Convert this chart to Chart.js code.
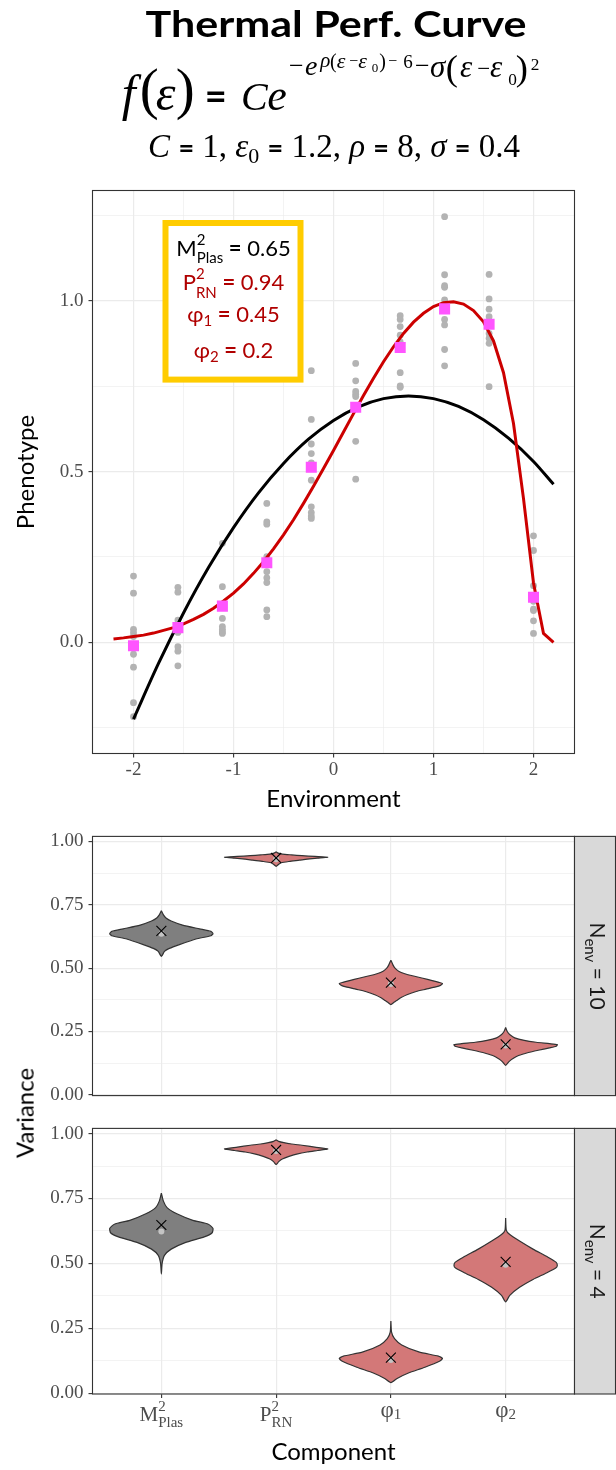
<!DOCTYPE html>
<html><head><meta charset="utf-8">
<script src="https://cdn.jsdelivr.net/npm/chart.js@4.4.1/dist/chart.umd.min.js"></script>
<style>
html,body{margin:0;padding:0;background:#fff;width:616px;height:1470px;overflow:hidden}
canvas{position:absolute;left:0}
#varLabel{position:absolute;left:25px;top:1113px;font:24px Lato;line-height:28.8px;color:#000;white-space:nowrap;transform:translate(-50%,-50%) rotate(-90deg)}
</style></head><body>
<canvas id="cTop" width="616" height="820" style="top:0"></canvas>
<canvas id="cV10" width="616" height="292" style="top:820px"></canvas>
<canvas id="cV4" width="616" height="358" style="top:1112px"></canvas>
<div id="varLabel">Variance</div>
<script>
// ---------------- DATA ----------------
const envLevels = [-2, -1.556, -1.111, -0.667, -0.222, 0.222, 0.667, 1.111, 1.556, 2];
const phenoObs = [
  [0.194, 0.144, 0.038, 0.028, 0.017, -0.035, -0.073, -0.177, -0.218],
  [0.161, 0.147, 0.065, 0.029, -0.013, -0.026, -0.069],
  [0.290, 0.163, 0.110, 0.070, 0.046, 0.038, 0.031, 0.026],
  [0.407, 0.353, 0.346, 0.251, 0.207, 0.189, 0.175, 0.095, 0.075],
  [0.796, 0.653, 0.581, 0.553, 0.526, 0.475, 0.397, 0.380, 0.370, 0.363],
  [0.817, 0.766, 0.735, 0.727, 0.720, 0.589, 0.478],
  [0.957, 0.946, 0.925, 0.900, 0.880, 0.790, 0.751, 0.747],
  [1.247, 1.077, 1.045, 1.040, 1.003, 0.946, 0.930, 0.858, 0.810],
  [1.078, 1.006, 0.976, 0.954, 0.905, 0.891, 0.876, 0.749],
  [0.312, 0.269, 0.166, 0.120, 0.097, 0.093, 0.063, 0.026]
];
const phenoMean = [-0.010, 0.043, 0.106, 0.233, 0.513, 0.689, 0.864, 0.977, 0.932, 0.132];

const curveEnv = [-2.2,-2.1,-2.0,-1.9,-1.8,-1.7,-1.6,-1.5,-1.4,-1.3,-1.2,-1.1,-1.0,-0.9,-0.8,-0.7,-0.6,-0.5,-0.4,-0.3,-0.2,-0.1,0,0.1,0.2,0.3,0.4,0.5,0.6,0.7,0.8,0.9,1.0,1.1,1.2,1.3,1.4,1.5,1.6,1.7,1.8,1.9,2.0,2.1,2.2];
const curveTrue = [0.010,0.013,0.017,0.021,0.027,0.035,0.043,0.054,0.067,0.082,0.100,0.121,0.144,0.171,0.202,0.236,0.274,0.315,0.359,0.407,0.457,0.509,0.562,0.616,0.670,0.723,0.774,0.822,0.866,0.905,0.938,0.964,0.984,0.995,0.998,0.991,0.972,0.939,0.883,0.790,0.641,0.421,0.174,0.026,0.000];

const fitEnv = [-2, -1.75, -1.5, -1.25, -1, -0.75, -0.5, -0.25, 0, 0.25, 0.5, 0.75, 1, 1.25, 1.5, 1.75, 2, 2.2];
const fitVals = [-0.225, -0.062, 0.086, 0.219, 0.336, 0.438, 0.524, 0.595, 0.650, 0.690, 0.714, 0.722, 0.714, 0.691, 0.652, 0.598, 0.530, 0.463];

const envTicks = [-2, -1.5, -1, -0.5, 0, 0.5, 1, 1.5, 2];
const phenoTicks = [-0.25, 0, 0.25, 0.5, 0.75, 1, 1.25];
const varTicks = [0, 0.125, 0.25, 0.375, 0.5, 0.625, 0.75, 0.875, 1];

const components = ['M2Plas', 'P2RN', 'phi1', 'phi2'];
const panelLabels = ['10', '4'];

// violin outlines, N_env = 10 (value, relative half-width)
const v10_M2_y = [0.7265,0.7105,0.698,0.686,0.670,0.655,0.645,0.636,0.628,0.615,0.593,0.578,0.566,0.546];
const v10_M2_w = [0,0.04,0.09,0.19,0.41,0.74,0.96,1.0,0.96,0.67,0.35,0.155,0.06,0];
const v10_P2_y = [0.959,0.954,0.950,0.947,0.944,0.941,0.938,0.934,0.930,0.926,0.921,0.916,0.910,0.902];
const v10_P2_w = [0,0.04,0.12,0.30,0.50,0.75,1.0,0.80,0.60,0.45,0.25,0.10,0.05,0];
const v10_p1_y = [0.5315,0.513,0.500,0.488,0.478,0.470,0.460,0.451,0.444,0.439,0.432,0.426,0.417,0.408,0.395,0.383,0.372,0.365,0.356];
const v10_p1_w = [0,0.04,0.08,0.15,0.27,0.42,0.62,0.80,0.93,1.0,0.96,0.87,0.68,0.49,0.31,0.19,0.11,0.06,0];
const v10_p2_y = [0.266,0.255,0.247,0.236,0.225,0.215,0.2076,0.202,0.198,0.192,0.1855,0.176,0.167,0.155,0.142,0.130,0.1165];
const v10_p2_w = [0,0.02,0.04,0.09,0.175,0.36,0.59,0.85,1.0,0.98,0.85,0.63,0.44,0.25,0.135,0.06,0];
// violin outlines, N_env = 4
const v4_M2_y = [0.771,0.740,0.715,0.691,0.666,0.651,0.635,0.617,0.602,0.580,0.555,0.531,0.500,0.459];
const v4_M2_w = [0,0.04,0.11,0.30,0.61,0.91,1.0,0.98,0.83,0.46,0.19,0.06,0.015,0];
const v4_P2_y = [0.976,0.970,0.965,0.960,0.955,0.948,0.941,0.935,0.929,0.922,0.912,0.902,0.892,0.881];
const v4_P2_w = [0,0.05,0.15,0.30,0.50,0.75,1.0,0.80,0.60,0.42,0.25,0.12,0.05,0];
const v4_p1_y = [0.278,0.235,0.210,0.186,0.159,0.143,0.134,0.124,0.100,0.078,0.057,0.041];
const v4_p1_w = [0,0.013,0.07,0.21,0.54,0.92,1.0,0.95,0.66,0.34,0.12,0];
const v4_p2_y = [0.675,0.627,0.611,0.586,0.555,0.524,0.504,0.491,0.482,0.463,0.438,0.408,0.377,0.352];
const v4_p2_w = [0,0.013,0.08,0.27,0.53,0.82,0.98,1.0,0.97,0.79,0.53,0.27,0.08,0];

const means10 = [0.647, 0.935, 0.443, 0.199];
const medians10 = [0.636, 0.930, 0.437, 0.195];
const means4 = [0.648, 0.937, 0.137, 0.506];
const medians4 = [0.623, 0.933, 0.128, 0.495];

// ---------------- HELPERS ----------------
const SERIF = '"Liberation Serif"';
const TICKFONT = {family: 'Liberation Serif', size: 19};
const GRID = '#EBEBEB';
const DARK = '#333333';

function richWidth(ctx, parts) {
  let w = 0;
  for (const p of parts) {
    if (p.stack) {
      let m = 0;
      for (const s of p.stack) { ctx.font = s.f; m = Math.max(m, ctx.measureText(s.t).width); }
      w += m;
    } else { ctx.font = p.f; w += ctx.measureText(p.t).width; }
  }
  return w;
}
function drawRich(ctx, parts, cx, y, color) {
  const w = richWidth(ctx, parts);
  let x = cx - w / 2;
  ctx.textAlign = 'left'; ctx.textBaseline = 'alphabetic';
  for (const p of parts) {
    if (p.stack) {
      let m = 0;
      for (const s of p.stack) {
        ctx.font = s.f; ctx.fillStyle = s.c || color;
        ctx.fillText(s.t, x, y + (s.dy || 0));
        m = Math.max(m, ctx.measureText(s.t).width);
      }
      x += m;
    } else {
      ctx.font = p.f; ctx.fillStyle = p.c || color;
      ctx.fillText(p.t, x, y + (p.dy || 0));
      x += ctx.measureText(p.t).width;
    }
  }
}
const near = (v, step) => Math.abs(v / step - Math.round(v / step)) < 1e-6;

const frame = {
  id: 'frame',
  afterDatasetsDraw(chart, args, opts) {
    const {ctx, chartArea: a} = chart;
    ctx.save();
    ctx.strokeStyle = DARK; ctx.lineWidth = 1.1;
    ctx.strokeRect(a.left, a.top, a.right - a.left, a.bottom - a.top);
    if (opts && opts.strip) {
      const x0 = a.right, x1 = 615.5;
      ctx.fillStyle = '#D9D9D9';
      ctx.fillRect(x0, a.top, x1 - x0, a.bottom - a.top);
      ctx.strokeRect(x0, a.top, x1 - x0, a.bottom - a.top);
      const cx = (x0 + x1) / 2, cy = (a.top + a.bottom) / 2;
      ctx.translate(cx, cy); ctx.rotate(Math.PI / 2);
      drawRich(ctx, [{t: 'N', f: '21px Lato'}, {t: 'env', f: '15px Lato', dy: 5}, {t: ' = ' + opts.strip, f: '21px Lato'}], 0, 5.4, '#1A1A1A');
    }
    ctx.restore();
  }
};

// formula glyphs: text, font, ink-left x, baseline y
const formulaPieces = [
  ['f', 'italic 50px ' + SERIF, 121.7, 110],
  ['(', '57px ' + SERIF, 141.7, 108],
  ['ε', 'italic 50px ' + SERIF, 156.7, 110],
  [')', '57px ' + SERIF, 176.7, 108],
  ['=', 'bold 38px Lato', 206.7, 110.4],
  ['C', 'italic 40px ' + SERIF, 243, 110],
  ['e', 'italic 44px ' + SERIF, 268.3, 110],
  ['−', '26px ' + SERIF, 290, 73.5],
  ['e', 'italic 28px ' + SERIF, 305, 75],
  ['ρ', 'italic 21px ' + SERIF, 319.3, 67],
  ['(', '20px ' + SERIF, 330, 68.2],
  ['ε', 'italic 22px ' + SERIF, 336.7, 67.5],
  ['−', '16px ' + SERIF, 349.3, 66.3],
  ['ε', 'italic 22px ' + SERIF, 358.3, 67.5],
  ['0', '13px ' + SERIF, 371.7, 71.7],
  [')', '20px ' + SERIF, 379.3, 68.2],
  ['−', '16px ' + SERIF, 388.3, 66.3],
  ['6', '19px ' + SERIF, 403.3, 67.7],
  ['−', '26px ' + SERIF, 416, 74.2],
  ['σ', 'italic 31px ' + SERIF, 430, 76.7],
  ['(', '36.5px ' + SERIF, 446.7, 80.1],
  ['ε', 'italic 31px ' + SERIF, 460, 76.7],
  ['−', '23px ' + SERIF, 478.3, 75.8],
  ['ε', 'italic 31px ' + SERIF, 490, 76.7],
  ['0', '17.3px ' + SERIF, 508.3, 85],
  [')', '36.5px ' + SERIF, 516.7, 80.1],
  ['2', '17.3px ' + SERIF, 530.7, 70]
];

const topDecor = {
  id: 'topDecor',
  afterDatasetsDraw(chart) {
    const ctx = chart.ctx;
    ctx.save();
    ctx.fillStyle = '#000'; ctx.textBaseline = 'alphabetic';
    // title, stretched to the reference footprint
    ctx.font = 'bold 37px Lato'; ctx.textAlign = 'center';
    const tw = ctx.measureText('Thermal Perf. Curve').width;
    ctx.save(); ctx.translate(336, 37.3); ctx.scale(381 / tw, 1);
    ctx.fillText('Thermal Perf. Curve', 0, 0);
    ctx.restore();
    ctx.textAlign = 'left';
    for (const [t, f, x, y] of formulaPieces) {
      ctx.font = f;
      const m = ctx.measureText(t);
      ctx.fillText(t, x + m.actualBoundingBoxLeft, y);
    }
    const pm = 'italic 33px ' + SERIF, pn = '33px ' + SERIF, eq = 'bold 27px Lato';
    drawRich(ctx, [
      {t: 'C', f: pm}, {t: ' ', f: pn}, {t: '=', f: eq}, {t: ' 1, ', f: pn},
      {t: 'ε', f: pm}, {t: '0', f: '22px ' + SERIF, dy: 6}, {t: ' ', f: pn}, {t: '=', f: eq}, {t: ' 1.2, ', f: pn},
      {t: 'ρ', f: pm}, {t: ' ', f: pn}, {t: '=', f: eq}, {t: ' 8, ', f: pn},
      {t: 'σ', f: pm}, {t: ' ', f: pn}, {t: '=', f: eq}, {t: ' 0.4', f: pn}
    ], 334, 156.7, '#000');
    // annotation box
    ctx.fillStyle = '#FFFFFF';
    ctx.fillRect(165.5, 223, 135, 156.6);
    ctx.strokeStyle = '#FFCC00'; ctx.lineWidth = 6;
    ctx.strokeRect(165.5, 223, 135, 156.6);
    const red = '#B00000', m = '22px Lato', s = '15px Lato', b = 'bold 22px Lato';
    drawRich(ctx, [{t: 'M', f: m}, {stack: [{t: '2', f: s, dy: -11}, {t: 'Plas', f: s, dy: 7}]}, {t: ' ', f: m}, {t: '=', f: b}, {t: ' 0.65', f: m}], 233.5, 256, '#000');
    drawRich(ctx, [{t: 'P', f: m}, {stack: [{t: '2', f: s, dy: -11}, {t: 'RN', f: s, dy: 8}]}, {t: ' ', f: m}, {t: '=', f: b}, {t: ' 0.94', f: m}], 233.5, 290, red);
    drawRich(ctx, [{t: 'φ', f: m}, {t: '1', f: s, dy: 4}, {t: ' ', f: m}, {t: '=', f: b}, {t: ' 0.45', f: m}], 233.5, 321.7, red);
    drawRich(ctx, [{t: 'φ', f: m}, {t: '2', f: s, dy: 4}, {t: ' ', f: m}, {t: '=', f: b}, {t: ' 0.2', f: m}], 233.5, 358.3, red);
    ctx.restore();
  }
};

// ---------------- TOP CHART ----------------
const obsPts = [];
envLevels.forEach((e, i) => phenoObs[i].forEach(v => obsPts.push({x: e, y: v})));

new Chart(document.getElementById('cTop'), {
  type: 'scatter',
  data: {datasets: [
    {data: envLevels.map((e, i) => ({x: e, y: phenoMean[i]})), pointStyle: 'rect', pointRadius: 7.8, backgroundColor: '#FF55FF', borderWidth: 0, order: 0},
    {data: curveEnv.map((e, i) => ({x: e, y: curveTrue[i]})), showLine: true, borderColor: '#CC0000', borderWidth: 3, pointRadius: 0, tension: 0, order: 1},
    {data: fitEnv.map((e, i) => ({x: e, y: fitVals[i]})), showLine: true, borderColor: '#000000', borderWidth: 3, pointRadius: 0, cubicInterpolationMode: 'monotone', order: 2},
    {data: obsPts, pointRadius: 3.4, backgroundColor: '#B3B3B3', borderWidth: 0, order: 3}
  ]},
  options: {
    responsive: false, animation: false, events: [],
    layout: {padding: {top: 190.5, right: 41.5, bottom: 0, left: 0}},
    plugins: {legend: {display: false}, tooltip: {enabled: false}},
    scales: {
      x: {
        type: 'linear', min: -2.41, max: 2.41,
        afterBuildTicks: s => { s.ticks = envTicks.map(v => ({value: v})); },
        afterFit: s => { s.height = 66.5; },
        ticks: {callback: v => near(v, 1) ? String(v) : '', font: TICKFONT, color: '#4D4D4D', padding: 1, maxRotation: 0, autoSkip: false},
        grid: {color: GRID, lineWidth: c => near(c.tick.value, 1) ? 1.2 : 0.6, tickColor: c => near(c.tick.value, 1) ? DARK : 'rgba(0,0,0,0)', tickLength: 4, tickWidth: 1.1},
        border: {display: false},
        title: {display: true, text: 'Environment', font: {family: 'Lato', size: 24}, color: '#000', padding: {top: 0, bottom: 6.6}}
      },
      y: {
        type: 'linear', min: -0.3258, max: 1.3238,
        afterBuildTicks: s => { s.ticks = phenoTicks.map(v => ({value: v})); },
        afterFit: s => { s.width = 92.5; },
        ticks: {callback: v => near(v, 0.5) ? v.toFixed(1) : '', font: TICKFONT, color: '#4D4D4D', padding: 5, autoSkip: false},
        grid: {color: GRID, lineWidth: c => near(c.tick.value, 0.5) ? 1.2 : 0.6, tickColor: c => near(c.tick.value, 0.5) ? DARK : 'rgba(0,0,0,0)', tickLength: 4, tickWidth: 1.1},
        border: {display: false},
        title: {display: true, text: 'Phenotype', font: {family: 'Lato', size: 24}, color: '#000', padding: {top: 12, bottom: 0}}
      }
    }
  },
  plugins: [frame, topDecor]
});

// ---------------- VIOLIN CHARTS ----------------
const HALF = 0.45;
function violinSets(ys, ws, means, meds) {
  const sets = [];
  ys.forEach((yArr, i) => {
    const c = i + 1, w = ws[i];
    const pts = yArr.map((y, k) => ({x: c + HALF * w[k], y}));
    for (let k = yArr.length - 2; k >= 0; k--) pts.push({x: c - HALF * w[k], y: yArr[k]});
    sets.push({data: pts, showLine: true, fill: 'shape', backgroundColor: i === 0 ? '#7F7F7F' : '#D37878',
      borderColor: DARK, borderWidth: 1.2, pointRadius: 0, tension: 0.2, order: 5});
  });
  sets.push({data: meds.map((m, i) => ({x: i + 1, y: m})), pointRadius: 3, backgroundColor: '#C4C4C4', borderWidth: 0, order: 1});
  sets.push({data: means.map((m, i) => ({x: i + 1, y: m})), pointStyle: 'crossRot', pointRadius: 7, borderColor: '#000', backgroundColor: '#000', borderWidth: 1.1, order: 0});
  return sets;
}

const compLabels = {
  id: 'compLabels',
  afterDraw(chart) {
    const ctx = chart.ctx, xs = chart.scales.x, y = chart.chartArea.bottom + 27.2;
    const f = '21px ' + SERIF, s = '15px ' + SERIF, col = '#4D4D4D';
    ctx.save();
    const labs = [
      [{t: 'M', f}, {stack: [{t: '2', f: s, dy: -10}, {t: 'Plas', f: s, dy: 6}]}],
      [{t: 'P', f}, {stack: [{t: '2', f: s, dy: -10}, {t: 'RN', f: s, dy: 6}]}],
      [{t: 'φ', f: '23px ' + SERIF}, {t: '1', f: s, dy: 2}],
      [{t: 'φ', f: '23px ' + SERIF}, {t: '2', f: s, dy: 2}]
    ];
    components.forEach((c, i) => drawRich(ctx, labs[i], xs.getPixelForValue(i + 1), y - (i > 1 ? 4 : 0), col));
    ctx.restore();
  }
};

function violinChart(id, sets, stripLabel, bottom) {
  return new Chart(document.getElementById(id), {
    type: 'scatter',
    data: {datasets: sets},
    options: {
      responsive: false, animation: false, events: [],
      layout: {padding: bottom ? {top: 5.5, right: 41.5, bottom: 0, left: 0} : {top: 11.5, right: 41.5, bottom: 4.5, left: 0}},
      plugins: {legend: {display: false}, tooltip: {enabled: false}, frame: {strip: stripLabel}},
      scales: {
        x: {
          type: 'linear', min: 0.4, max: 4.6,
          afterBuildTicks: s => { s.ticks = components.map((c, i) => ({value: i + 1})); },
          afterFit: s => { s.height = bottom ? 76 : 0; },
          ticks: {display: false},
          grid: {color: GRID, lineWidth: 1.2, drawTicks: bottom, tickColor: DARK, tickLength: 4, tickWidth: 1.1},
          border: {display: false},
          title: {display: bottom, text: 'Component', font: {family: 'Lato', size: 24}, color: '#000', padding: {top: 0, bottom: 3.3}}
        },
        y: {
          type: 'linear', min: -0.003, max: 1.02,
          afterBuildTicks: s => { s.ticks = varTicks.map(v => ({value: v})); },
          afterFit: s => { s.width = 92.5; },
          ticks: {callback: v => near(v, 0.25) ? v.toFixed(2) : '', font: TICKFONT, color: '#4D4D4D', padding: 5, autoSkip: false},
          grid: {color: GRID, lineWidth: c => near(c.tick.value, 0.25) ? 1.2 : 0.6, tickColor: c => near(c.tick.value, 0.25) ? DARK : 'rgba(0,0,0,0)', tickLength: 4, tickWidth: 1.1},
          border: {display: false}
        }
      }
    },
    plugins: bottom ? [frame, compLabels] : [frame]
  });
}

violinChart('cV10', violinSets([v10_M2_y, v10_P2_y, v10_p1_y, v10_p2_y], [v10_M2_w, v10_P2_w, v10_p1_w, v10_p2_w], means10, medians10), panelLabels[0], false);
violinChart('cV4', violinSets([v4_M2_y, v4_P2_y, v4_p1_y, v4_p2_y], [v4_M2_w, v4_P2_w, v4_p1_w, v4_p2_w], means4, medians4), panelLabels[1], true);
</script>
</body></html>
